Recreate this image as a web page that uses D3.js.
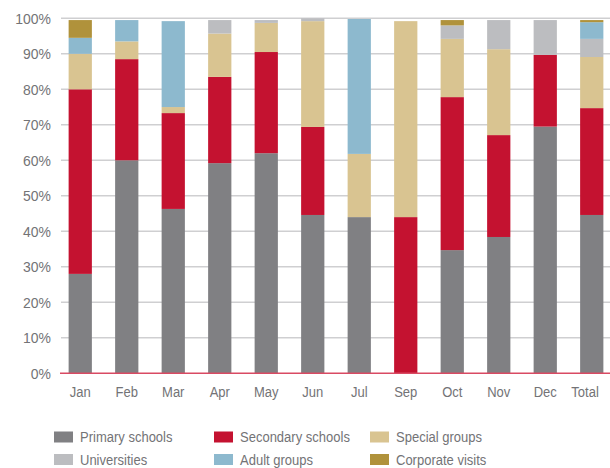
<!DOCTYPE html>
<html>
<head>
<meta charset="utf-8">
<script src="https://cdn.jsdelivr.net/npm/d3@7"></script>
<style>
  html, body { margin: 0; padding: 0; background: #fff; }
  svg text { font-family: "Liberation Sans", Arial, sans-serif; fill: #737376; }
</style>
</head>
<body>
<svg id="chart" width="610" height="468"></svg>
<script>
// Share of visitors by group, per month (percent)
const months = ["Jan", "Feb", "Mar", "Apr", "May", "Jun", "Jul", "Sep", "Oct", "Nov", "Dec", "Total"];
const primarySchools   = [28,   60,   46.3, 59.2, 62,   44.6, 44,   0,    34.7, 38.4, 69.5, 44.6];
const secondarySchools = [52,   28.5, 27,   24.3, 28.5, 24.8, 0,    44,   43.1, 28.7, 20.2, 30.1];
const specialGroups    = [10,   5,    1.7,  12.2, 8.2,  29.8, 17.8, 55.2, 16.4, 24.2, 0,    14.4];
const universities     = [0,    0,    0,    3.8,  0.8,  0.8,  0,    0,    3.8,  8.2,  9.8,  5.1];
const adultGroups      = [4.5,  6,    24.2, 0,    0,    0,    38,   0,    0,    0,    0,    4.7];
const corporateVisits  = [5,    0,    0,    0,    0,    0,    0,    0,    1.5,  0,    0,    0.6];
const yTicks = [0, 10, 20, 30, 40, 50, 60, 70, 80, 90, 100];

const seriesDefs = [
  { name: "Primary schools",   values: primarySchools,   color: "#808083" },
  { name: "Secondary schools", values: secondarySchools, color: "#c41230" },
  { name: "Special groups",    values: specialGroups,    color: "#d9c491" },
  { name: "Universities",      values: universities,     color: "#bcbdc0" },
  { name: "Adult groups",      values: adultGroups,      color: "#8db9ce" },
  { name: "Corporate visits",  values: corporateVisits,  color: "#b0923b" }
];

const rows = months.map((m, i) => {
  const r = { month: m };
  seriesDefs.forEach(s => { r[s.name] = s.values[i]; });
  return r;
});

const svg = d3.select("#chart");
const gridLeft = 61, gridRight = 610;
const fontSize = 15.5;
const squeeze = "scale(0.84,1)";   // condensed look for all labels

const x = d3.scaleBand().domain(months).range([57, 615]).paddingInner(0.5).paddingOuter(0.25);
const y = d3.scaleLinear().domain([0, 100]).range([373.3, 18.3]);

// horizontal gridlines
svg.append("g")
  .selectAll("line")
  .data(yTicks.filter(t => t > 0))
  .join("line")
  .attr("x1", gridLeft).attr("x2", gridRight)
  .attr("y1", d => y(d)).attr("y2", d => y(d))
  .attr("stroke", "#cfcfd1").attr("stroke-width", 1.6);

// stacked bars
const stack = d3.stack().keys(seriesDefs.map(s => s.name));
const layers = stack(rows);
svg.append("g")
  .selectAll("g")
  .data(layers)
  .join("g")
  .attr("fill", (d, i) => seriesDefs[i].color)
  .selectAll("rect")
  .data(d => d)
  .join("rect")
  .attr("x", d => x(d.data.month))
  .attr("width", x.bandwidth())
  .attr("y", d => y(d[1]))
  .attr("height", d => Math.max(0, y(d[0]) - y(d[1])));

// baseline
svg.append("line")
  .attr("x1", gridLeft - 1).attr("x2", gridRight)
  .attr("y1", y(0)).attr("y2", y(0))
  .attr("stroke", "#d94a63").attr("stroke-width", 1.6);

// y axis labels
const yAxis = d3.axisLeft(y).tickValues(yTicks).tickFormat(d => d + "%").tickSize(0).tickPadding(0);
svg.append("g")
  .attr("transform", "translate(51,0)")
  .call(yAxis)
  .call(g => g.select(".domain").remove())
  .call(g => g.selectAll("text")
    .attr("font-size", fontSize)
    .attr("font-family", null)
    .attr("fill", null)
    .attr("transform", "scale(0.9,1)"));

// x axis labels
const xAxis = d3.axisBottom(x).tickSize(0).tickPadding(0);
svg.append("g")
  .attr("transform", "translate(0,385.5)")
  .call(xAxis)
  .call(g => g.select(".domain").remove())
  .call(g => g.selectAll("text")
    .attr("font-size", fontSize)
    .attr("font-family", null)
    .attr("fill", null)
    .attr("transform", squeeze))
  // keep the last label inside the chart's right edge
  .call(g => g.selectAll(".tick").filter(d => d === "Total")
    .select("text").attr("x", -8));

// legend
const legendCols = [54, 214, 370];
const legendRows = [437, 459.5];
const legend = svg.append("g")
  .selectAll("g")
  .data(seriesDefs)
  .join("g")
  .attr("transform", (d, i) => `translate(${legendCols[i % 3]},${legendRows[Math.floor(i / 3)]})`);
legend.append("rect")
  .attr("x", 0).attr("y", -5.5)
  .attr("width", 19).attr("height", 11)
  .attr("fill", d => d.color);
legend.append("g")
  .attr("transform", `translate(26,0) ${squeeze}`)
  .append("text")
  .attr("x", 0).attr("y", 0)
  .attr("dy", "0.35em")
  .attr("font-size", fontSize)
  .text(d => d.name);
</script>
</body>
</html>
